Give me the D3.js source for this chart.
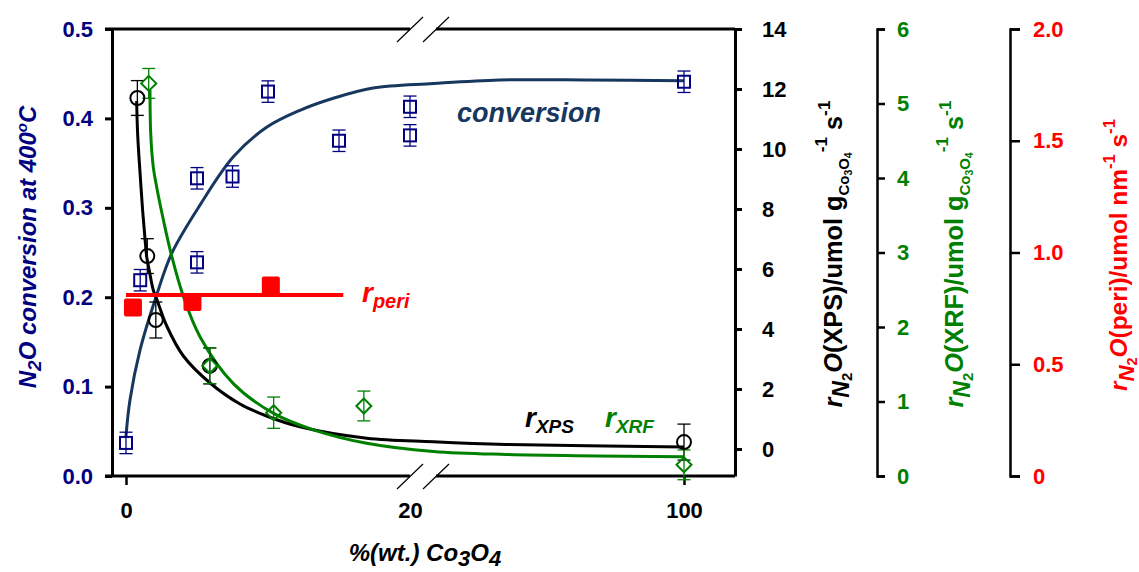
<!DOCTYPE html>
<html>
<head>
<meta charset="utf-8">
<script src="https://cdn.jsdelivr.net/npm/d3@7"></script>
<style>
  body { margin: 0; background: #fff; }
  svg text { font-family: "Liberation Sans", Arial, sans-serif; font-weight: bold; }
</style>
</head>
<body>
<div id="chart"></div>
<script>
// ---- data ----
// N2O conversion (left axis), open squares
const convX = [0, 1, 5, 5, 7.5, 10, 15, 20, 20, 100];
const convY = [0.037, 0.219, 0.333, 0.239, 0.335, 0.430, 0.375, 0.413, 0.381, 0.441];
const convErr = [0.012, 0.012, 0.012, 0.012, 0.012, 0.012, 0.012, 0.012, 0.012, 0.012];
const convCurveX = [0, 0.28, 0.99, 2.16, 3.22, 5.21, 7.56, 9.9, 12.25, 14.6, 17.4, 21.8, 42, 70, 100];
const convCurveY = [0.045, 0.085, 0.141, 0.2025, 0.249, 0.303, 0.357, 0.39, 0.409, 0.4225, 0.434, 0.439, 0.443, 0.443, 0.442];

// r XPS (first right axis), open circles
const xpsX = [0.8, 1.5, 2.1, 5.9, 100];
const xpsY = [11.7, 6.43, 4.3, 2.77, 0.23];
const xpsErr = [0.58, 0.58, 0.6, 0.6, 0.6];
const xpsCurveX = [0.75, 0.82, 0.99, 1.18, 1.34, 1.46, 1.64, 1.92, 2.16, 2.87, 4.04, 5.92, 8.03, 9.9, 12.25, 16.95, 21.8, 44, 100];
const xpsCurveY = [11.6, 10.5, 9.2, 7.9, 7.0, 6.4, 5.95, 5.3, 5.0, 4.1, 3.1, 2.2, 1.5, 1.1, 0.74, 0.36, 0.24, 0.15, 0.07];

// r XRF (second right axis), open diamonds
const xrfX = [1.6, 5.9, 10.4, 16.75, 100];
const xrfY = [5.27, 1.48, 0.85, 0.94, 0.15];
const xrfErr = [0.2, 0.24, 0.21, 0.2, 0.2];
const xrfCurveX = [1.69, 1.74, 1.92, 2.16, 2.63, 3.22, 4.04, 5.21, 7.56, 10.4, 13.2, 16.95, 21.8, 44, 100];
const xrfCurveY = [5.18, 4.6, 4.15, 3.88, 3.44, 2.95, 2.41, 1.87, 1.24, 0.84, 0.62, 0.44, 0.33, 0.29, 0.26];

// r peri (third right axis), filled squares + mean line
const periX = [0.49, 4.68, 10.2];
const periY = [0.754, 0.778, 0.852];
const periLineX = [0, 15.3];
const periLineY = [0.81, 0.81];

// tick labels
const xTicks = [0, 20, 100];
const convTicks = [0, 0.1, 0.2, 0.3, 0.4, 0.5];
const xpsTicks = [0, 2, 4, 6, 8, 10, 12, 14];
const xrfTicks = [0, 1, 2, 3, 4, 5, 6];
const periTicks = [0, 0.5, 1.0, 1.5, 2.0];

// ---- layout ----
const W = 1139, H = 572;
const plotL = 112, plotR = 735, plotT = 29, plotB = 476;
const breakA = 410, breakB = 436;
const xrfAxisX = 877, periAxisX = 1010;

const NAVY = "#000080", CURVE = "#17375e", GREEN = "#008000", RED = "#ff0000";

const svg = d3.select("#chart").append("svg")
  .attr("width", W).attr("height", H);

// broken x axis: 0..20 | 22..100
const x = d3.scaleLinear().domain([0, 20, 22, 100]).range([126, breakA, breakB, 684]);
const yConv = d3.scaleLinear().domain([0, 0.5]).range([plotB, plotT]);
const yXps = d3.scaleLinear().domain([-0.9, 14]).range([plotB, plotT]);
const yXrf = d3.scaleLinear().domain([0, 6]).range([plotB, plotT]);
const yPeri = d3.scaleLinear().domain([0, 2]).range([plotB, plotT]);

// frame (top and bottom with break gap)
const frame = svg.append("g").attr("stroke", "#000").attr("stroke-width", 3);
[plotT, plotB].forEach(yy => {
  frame.append("line").attr("x1", plotL - 7).attr("x2", breakA).attr("y1", yy).attr("y2", yy);
  frame.append("line").attr("x1", breakB).attr("x2", plotR).attr("y1", yy).attr("y2", yy);
  [breakA, breakB].forEach(bx => {
    svg.append("line")
      .attr("x1", bx - 13).attr("y1", yy + 13).attr("x2", bx + 13).attr("y2", yy - 12)
      .attr("stroke", "#000").attr("stroke-width", 1.2);
  });
});

function styleAxis(g, color, width) {
  g.select(".domain").attr("stroke", "#000").attr("stroke-width", width);
  g.selectAll(".tick line").attr("stroke", "#000").attr("stroke-width", width);
  g.selectAll(".tick text").attr("fill", color).style("font-size", "22px");
}

// left axis
const gL = svg.append("g").attr("transform", `translate(${plotL},0)`)
  .call(d3.axisLeft(yConv).tickValues(convTicks).tickFormat(d3.format(".1f"))
    .tickSize(7).tickPadding(12).tickSizeOuter(0));
styleAxis(gL, NAVY, 3);

// bottom axis
const gB = svg.append("g").attr("transform", `translate(0,${plotB})`)
  .call(d3.axisBottom(x).tickValues(xTicks).tickFormat(d3.format("d"))
    .tickSize(9).tickPadding(17).tickSizeOuter(0));
gB.select(".domain").remove();
styleAxis(gB, "#000", 2.5);
gB.selectAll(".tick").filter(d => d === 20).select("line").remove();

// XPS axis (right side of plot)
const gX = svg.append("g").attr("transform", `translate(${plotR},0)`)
  .call(d3.axisRight(yXps).tickValues(xpsTicks).tickSize(7).tickPadding(20).tickSizeOuter(0));
styleAxis(gX, "#000", 3);

const gR = svg.append("g").attr("transform", `translate(${xrfAxisX},0)`)
  .call(d3.axisRight(yXrf).tickValues(xrfTicks).tickFormat(d3.format("d"))
    .tickSize(8).tickPadding(12).tickSizeOuter(8));
styleAxis(gR, GREEN, 2.5);

const gP = svg.append("g").attr("transform", `translate(${periAxisX},0)`)
  .call(d3.axisRight(yPeri).tickValues(periTicks).tickFormat(d => d === 0 ? "0" : d3.format(".1f")(d))
    .tickSize(10).tickPadding(13).tickSizeOuter(10));
styleAxis(gP, RED, 2.5);

// ---- curves ----
function curve(xs, ys, yScale, color, width) {
  const pts = xs.map((v, i) => [v, ys[i]]);
  svg.append("path").datum(pts)
    .attr("d", d3.line().x(d => x(d[0])).y(d => yScale(d[1])).curve(d3.curveCatmullRom.alpha(0.5)))
    .attr("fill", "none").attr("stroke", color).attr("stroke-width", width);
}
curve(convCurveX, convCurveY, yConv, CURVE, 3);
curve(xpsCurveX, xpsCurveY, yXps, "#000", 3);
curve(xrfCurveX, xrfCurveY, yXrf, GREEN, 3);

// ---- error bars ----
function errBars(xs, ys, es, yScale, color) {
  const g = svg.append("g").attr("stroke", color).attr("stroke-width", 1.3);
  xs.forEach((v, i) => {
    const px = x(v), y1 = yScale(ys[i] - es[i]), y2 = yScale(ys[i] + es[i]);
    g.append("line").attr("x1", px).attr("x2", px).attr("y1", y1).attr("y2", y2);
    g.append("line").attr("x1", px - 6.5).attr("x2", px + 6.5).attr("y1", y1).attr("y2", y1);
    g.append("line").attr("x1", px - 6.5).attr("x2", px + 6.5).attr("y1", y2).attr("y2", y2);
  });
}
errBars(convX, convY, convErr, yConv, NAVY);
errBars(xpsX, xpsY, xpsErr, yXps, "#000");
errBars(xrfX, xrfY, xrfErr, yXrf, GREEN);

// ---- markers ----
svg.append("g").selectAll("rect").data(convX).join("rect")
  .attr("x", (d) => x(d) - 6).attr("y", (d, i) => yConv(convY[i]) - 6)
  .attr("width", 12).attr("height", 12)
  .attr("fill", "none").attr("stroke", NAVY).attr("stroke-width", 2);

svg.append("g").selectAll("circle").data(xpsX).join("circle")
  .attr("cx", d => x(d)).attr("cy", (d, i) => yXps(xpsY[i])).attr("r", 7)
  .attr("fill", "none").attr("stroke", "#000").attr("stroke-width", 2);

svg.append("g").selectAll("path").data(xrfX).join("path")
  .attr("d", (d, i) => {
    const cx = x(d), cy = yXrf(xrfY[i]), s = 7.5;
    return `M${cx},${cy - s}L${cx + s},${cy}L${cx},${cy + s}L${cx - s},${cy}Z`;
  })
  .attr("fill", "none").attr("stroke", GREEN).attr("stroke-width", 2);

// peri line + squares
svg.append("path").datum(periLineX.map((v, i) => [v, periLineY[i]]))
  .attr("d", d3.line().x(d => x(d[0])).y(d => yPeri(d[1])))
  .attr("stroke", RED).attr("stroke-width", 4).attr("fill", "none");
svg.append("g").selectAll("rect").data(periX).join("rect")
  .attr("x", d => x(d) - 9).attr("y", (d, i) => yPeri(periY[i]) - 9)
  .attr("width", 18).attr("height", 18).attr("rx", 2)
  .attr("fill", RED);

// ---- text helpers ----
function richText(parent, parts, attrs) {
  const t = parent.append("text");
  Object.entries(attrs).forEach(([k, v]) => t.attr(k, v));
  parts.forEach(p => {
    const s = t.append("tspan").text(p.t).style("font-size", p.size + "px");
    if (p.dy) s.attr("dy", p.dy);
    if (p.it) s.style("font-style", "italic");
  });
  return t;
}

// series labels
richText(svg, [{ t: "conversion", size: 27, it: true }], { x: 457, y: 122, fill: CURVE });
richText(svg, [{ t: "r", size: 28, it: true }, { t: "peri", size: 20, it: true, dy: 6 }], { x: 362, y: 302, fill: RED });
richText(svg, [{ t: "r", size: 28, it: true }, { t: "XPS", size: 19, it: true, dy: 6 }], { x: 525, y: 427, fill: "#000" });
richText(svg, [{ t: "r", size: 28, it: true }, { t: "XRF", size: 19, it: true, dy: 6 }], { x: 605, y: 427, fill: GREEN });

// axis titles
richText(svg, [
  { t: "N", size: 24, it: true }, { t: "2", size: 19, it: true, dy: 5 },
  { t: "O conversion at 400", size: 24, it: true, dy: -5 },
  { t: "o", size: 15, it: true, dy: -9 }, { t: "C", size: 24, it: true, dy: 9 }
], { x: 0, y: 0, fill: NAVY, "text-anchor": "middle", transform: `translate(36,247) rotate(-90)` });

richText(svg, [
  { t: "%(wt.) Co", size: 24, it: true }, { t: "3", size: 22, it: true, dy: 5 },
  { t: "O", size: 24, it: true, dy: -5 }, { t: "4", size: 22, it: true, dy: 5 }
], { x: 425, y: 561, fill: "#000", "text-anchor": "middle" });

function rateTitle(tag, unit, cx, cy, k, color) {
  const f = v => Math.round(v * k * 10) / 10;
  const parts = [
    { t: "r", size: f(22), it: true },
    { t: "N", size: f(20), it: true, dy: f(6) }, { t: "2", size: f(13), dy: f(3) },
    { t: "O", size: f(22), it: true, dy: -f(9) },
    { t: "(" + tag + ")/umol ", size: f(22) }
  ];
  if (unit === "g") {
    parts.push({ t: "g", size: f(22) }, { t: "Co", size: f(13), dy: f(6) }, { t: "3", size: f(9), dy: f(3) },
      { t: "O", size: f(13), dy: -f(3) }, { t: "4", size: f(9), dy: f(3) },
      { t: "-1", size: f(15), dy: -f(22) }, { t: " s", size: f(22), dy: f(13) }, { t: "-1", size: f(15), dy: -f(11) });
  } else {
    parts.push({ t: "nm", size: f(22) }, { t: "-1", size: f(15), dy: -f(11) },
      { t: " s", size: f(22), dy: f(11) }, { t: "-1", size: f(15), dy: -f(11) });
  }
  richText(svg, parts, { x: 0, y: 0, fill: color, "text-anchor": "middle",
    transform: `translate(${cx},${cy}) rotate(-90)` });
}
rateTitle("XPS", "g", 842, 254, 1.15, "#000");
rateTitle("XRF", "g", 963, 254, 1.15, GREEN);
rateTitle("peri", "nm", 1127, 255, 1.11, RED);
</script>
</body>
</html>
